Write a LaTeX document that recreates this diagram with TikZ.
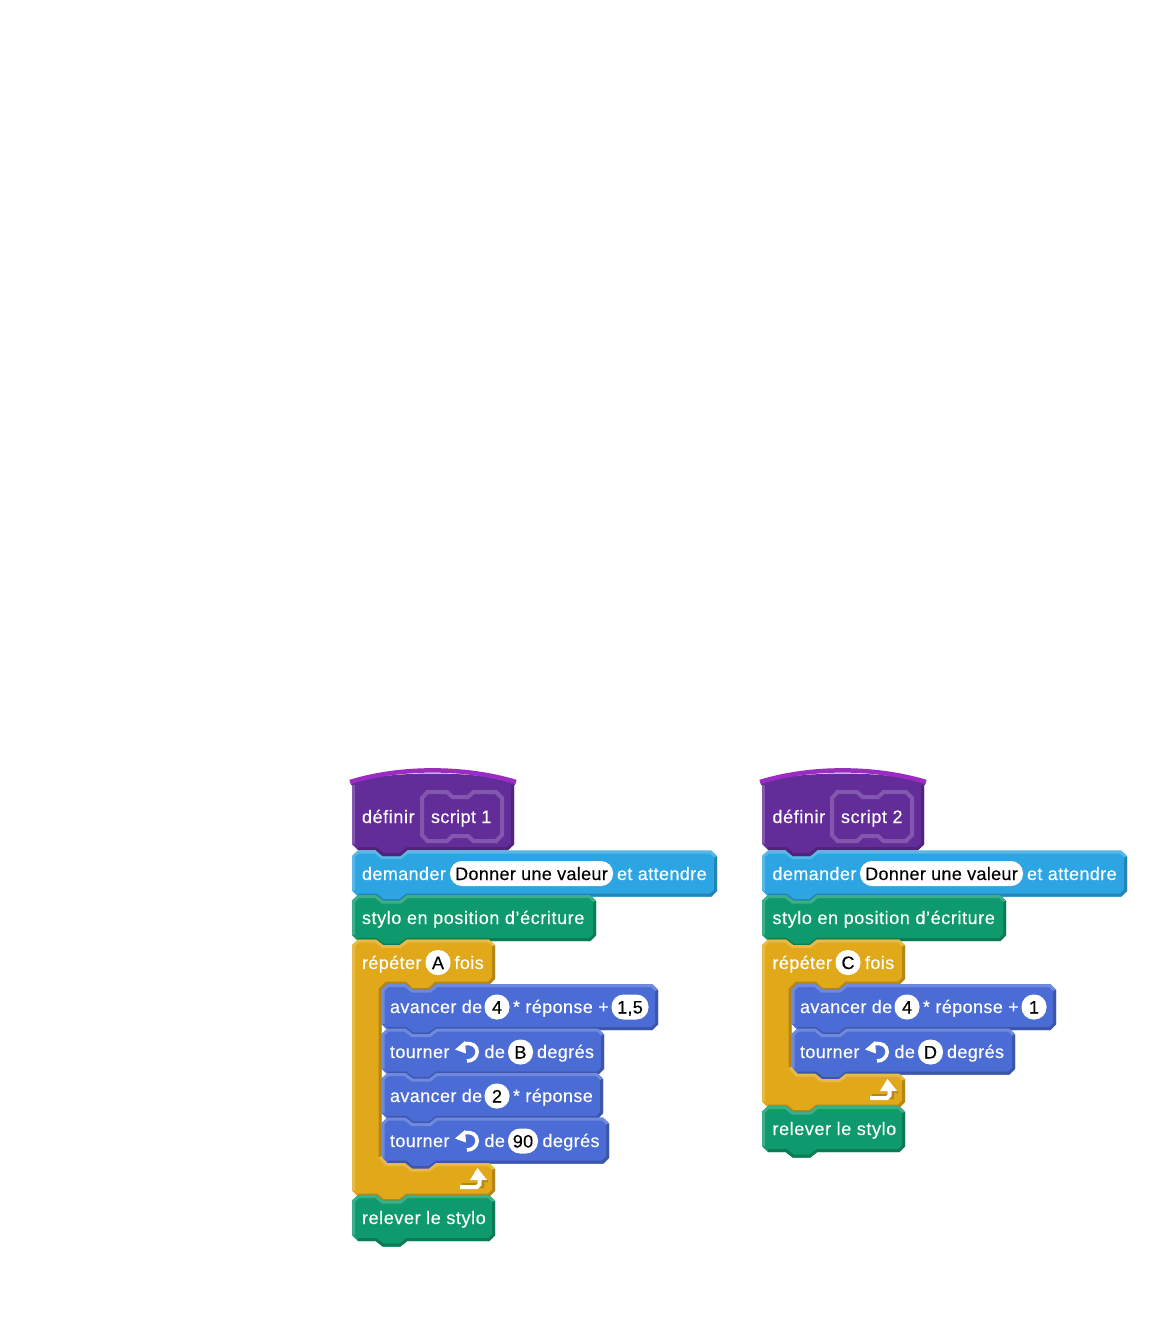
\documentclass[tikz,border=0pt]{standalone}
\usepackage{fontspec}
\newfontfamily\blockfont[LetterSpace=2.2,FakeBold=0.25]{Liberation Sans}
\newfontfamily\blockwide[LetterSpace=3.3,FakeBold=0.25]{Liberation Sans}
\newfontfamily\pillfont[LetterSpace=1.8,FakeBold=0.25]{Liberation Sans}
\definecolor{penB}{HTML}{0E9A6C}\definecolor{penL}{HTML}{3CAE89}\definecolor{penD}{HTML}{0B7B56}
\definecolor{senB}{HTML}{2CA5E2}\definecolor{senL}{HTML}{56B7E8}\definecolor{senD}{HTML}{2384B5}
\definecolor{conB}{HTML}{E1A91A}\definecolor{conL}{HTML}{E7BA48}\definecolor{conD}{HTML}{B48715}
\definecolor{motB}{HTML}{4A6CD4}\definecolor{motL}{HTML}{6E89DD}\definecolor{motD}{HTML}{3B56AA}
\definecolor{defB}{HTML}{632D99}\definecolor{defL}{HTML}{8257AD}\definecolor{defD}{HTML}{4F247A}
\definecolor{defT}{HTML}{9A2BC4}
\tikzset{
  x=1pt,y=-1pt,
  bevel/.style={line width=3pt,line join=miter,line cap=butt},
  lbl/.style={anchor=base west,inner sep=0pt,outer sep=0pt,text=white,font=\blockfont\fontsize{18}{20}\selectfont},
  lblw/.style={lbl,font=\blockwide\fontsize{18}{20}\selectfont},
  pill/.style={fill=white,rounded corners=12pt,inner sep=0pt,outer sep=0pt,text=black,
     minimum height=25pt,text height=13pt,text depth=0pt,font=\pillfont\fontsize{18}{20}\selectfont},
}
% L T R B base light dark
\newcommand{\blockshape}[7]{%
  \fill[#5] ({#1+6},#2) -- ({#1+24},#2) -- ({#1+31},{#2+5.5}) -- ({#1+48},{#2+5.5}) -- ({#1+55},#2) -- ({#3-6},#2) -- (#3,{#2+6})
    -- (#3,{#4-6}) -- ({#3-6},#4) -- ({#1+55},#4) -- ({#1+48},{#4+5.5}) -- ({#1+31},{#4+5.5}) -- ({#1+24},#4) -- ({#1+6},#4) -- (#1,{#4-6}) -- (#1,{#2+6}) -- cycle;
  \draw[bevel,#7] ({#3-1.5},{#2+6}) -- ({#3-1.5},{#4-6}) -- ({#3-6},{#4-1.5}) -- ({#1+55},{#4-1.5}) -- ({#1+48},{#4+4}) -- ({#1+31},{#4+4}) -- ({#1+24},{#4-1.5}) -- ({#1+6},{#4-1.5});
  \draw[bevel,#6] ({#1+1.5},{#4-6}) -- ({#1+1.5},{#2+6}) -- ({#1+6.5},{#2+1.5}) -- ({#1+23.5},{#2+1.5}) -- ({#1+30.5},{#2+7}) -- ({#1+48.5},{#2+7}) -- ({#1+55.5},{#2+1.5}) -- ({#3-6.5},{#2+1.5}) -- ({#3-1.5},{#2+6});
}
% C block: T, armbottom, armtop, bottom
\newcommand{\cblock}[4]{%
  \fill[conB] (358,#1) -- (376,#1) -- (383,{#1+5.5}) -- (400,{#1+5.5}) -- (407,#1) -- (489,#1) -- (495,{#1+6}) -- (495,{#2-6}) -- (489,#2)
    -- (436,#2) -- (429,{#2+6.5}) -- (412,{#2+6.5}) -- (405,#2) -- (387.5,#2) -- (381.5,{#2+6}) -- (381.5,{#3-6}) -- (387.5,#3)
    -- (405,#3) -- (412,{#3+5.5}) -- (429,{#3+5.5}) -- (436,#3) -- (489,#3) -- (495,{#3+6}) -- (495,{#4-6}) -- (489,#4)
    -- (407,#4) -- (400,{#4+5.5}) -- (383,{#4+5.5}) -- (376,#4) -- (358,#4) -- (352,{#4-6}) -- (352,{#1+6}) -- cycle;
  \draw[bevel,conD] (493.5,{#1+6}) -- (493.5,{#2-6}) -- (489,{#2-1.5}) -- (436,{#2-1.5}) -- (429,{#2+5}) -- (412,{#2+5}) -- (405,{#2-1.5}) -- (386.5,{#2-1.5}) -- (380,{#2+5}) -- (380,{#3-6});
  \draw[bevel,conL] (353.5,{#4-6}) -- (353.5,{#1+6}) -- (358.5,{#1+1.5}) -- (375.5,{#1+1.5}) -- (382.5,{#1+7}) -- (400.5,{#1+7}) -- (407.5,{#1+1.5}) -- (488.5,{#1+1.5}) -- (493.5,{#1+6});
}
\newcommand{\cblocktop}[2]{% lower arm bevels, drawn over the inner blocks: armtop, bottom
  \draw[bevel,conD] (493.5,{#1+6}) -- (493.5,{#2-6}) -- (489,{#2-1.5}) -- (407,{#2-1.5}) -- (400,{#2+4}) -- (383,{#2+4}) -- (376,{#2-1.5}) -- (358,{#2-1.5});
  \draw[bevel,conL] (380,{#1-6}) -- (386.5,{#1+1.5}) -- (404.5,{#1+1.5}) -- (411.5,{#1+7}) -- (429.5,{#1+7}) -- (436.5,{#1+1.5}) -- (488.5,{#1+1.5}) -- (493.5,{#1+6});
}
\newcommand{\turnicon}[2]{% icon origin at centre of the arc
  \begin{scope}[shift={(#1,#2)}]
    \draw[white,line width=3.6pt] (-3,-8) .. controls (5,-10) and (10.5,-6) .. (10.2,0) .. controls (9.8,5) and (6,9) .. (0,9);
    \fill[white] (-12,-2.5) -- (-2,-11) -- (-1,1.5) -- cycle;
  \end{scope}}
\newcommand{\loopicon}[2]{% arrow of the C block, apex at (#1,#2)
  \begin{scope}[shift={(#1,#2)}]
    \fill[conD] (-15,20) -- (7,20) -- (7,12) -- (3,12) -- (3,15) -- (-15,15) -- cycle;
    \fill[conD] (2,12) -- (10.5,14.5) -- (11,12) -- cycle;
    \draw[white,line width=4pt] (-17,19) -- (0,19) -- (2.5,16.5) -- (2.5,10);
    \fill[white] (-7,12) -- (0.5,0) -- (10,12) -- cycle;
  \end{scope}}
\newcommand{\hathead}[1]{%
  \fill[defB] (352,782) -- (514,782) -- (514,844) -- (508,850) -- (407,850) -- (400,856) -- (383,856) -- (376,850) -- (358,850) -- (352,844) -- cycle;
  \draw[bevel,defD] (512.5,782) -- (512.5,844) -- (507.5,848.5) -- (407,848.5) -- (400,854.5) -- (383,854.5) -- (376,848.5) -- (358,848.5);
  \draw[bevel,defL] (353.5,844) -- (353.5,782);
  \fill[defB] (351,781) .. controls (400,771) and (465,771) .. (515,781) -- (515,785) -- (351,785) -- cycle;
  \draw[defT,line width=4.5pt] (350,782) .. controls (400,766.5) and (465,766.5) .. (516,782);
  \draw[defL,line width=4pt] (427.5,792) -- (447,792) -- (452.5,797) -- (468,797) -- (473.5,792) -- (496,792) -- (502,798) -- (502,835) -- (496,841) -- (473.5,841) -- (468,836) -- (452.5,836) -- (447,841) -- (427.5,841) -- (422,835) -- (422,798) -- cycle;
}
\begin{document}
\begin{tikzpicture}
\useasboundingbox (0,0) rectangle (1170,1337);
\fill[white] (0,0) rectangle (1170,1337);
% ---------- script 1
\blockshape{352}{850.5}{717}{896.5}{senB}{senL}{senD}
\hathead{}
\blockshape{352}{895}{596}{941}{penB}{penL}{penD}
\cblock{939.5}{984.5}{1163}{1196.5}
\blockshape{381.5}{984}{658}{1030}{motB}{motL}{motD}
\blockshape{381.5}{1028.5}{604}{1074.5}{motB}{motL}{motD}
\blockshape{381.5}{1073}{603}{1119}{motB}{motL}{motD}
\blockshape{381.5}{1117.5}{609}{1163.5}{motB}{motL}{motD}
\cblocktop{1163}{1196.5}
\blockshape{352}{1195}{495}{1241}{penB}{penL}{penD}
\loopicon{477}{1168}
\node[lblw] (a1) at (362,823) {définir};
\node[lbl] (a2) at (431,823) {script 1};
\node[lbl] (a3) at (362,880) {demander};
\node[pill,minimum width=163pt] (a4) at (531.5,873.5) {Donner une valeur};
\node[lbl] (a5) at (617,880) {et attendre};
\node[lblw] (a6) at (362,924) {stylo en position d’écriture};
\node[lbl] (a7) at (362,969) {répéter};
\node[pill,minimum width=25pt] (a8) at (438,962.5) {A};
\node[lbl] (a9) at (454.5,969) {fois};
\node[lbl] (a10) at (390,1013) {avancer de};
\node[pill,minimum width=25pt] (a11) at (497,1007) {4};
\node[lbl] (a12) at (513,1013) {* réponse +};
\node[pill,minimum width=37pt] (a13) at (630,1007) {1,5};
\node[lbl] (a14) at (390,1058) {tourner};
\turnicon{467}{1052}
\node[lbl] (a15) at (484.5,1058) {de};
\node[pill,minimum width=25pt] (a16) at (520.5,1052) {B};
\node[lbl] (a17) at (537,1058) {degrés};
\node[lbl] (a18) at (390,1102) {avancer de};
\node[pill,minimum width=25pt] (a19) at (497,1096) {2};
\node[lbl] (a20) at (513,1102) {* réponse};
\node[lbl] (a21) at (390,1147) {tourner};
\turnicon{467}{1141}
\node[lbl] (a22) at (484.5,1147) {de};
\node[pill,minimum width=30pt] (a23) at (523,1141) {90};
\node[lbl] (a24) at (542.5,1147) {degrés};
\node[lblw] (a25) at (362,1224) {relever le stylo};
% ---------- script 2
\begin{scope}[xshift=410pt]
\blockshape{352}{850.5}{717}{896.5}{senB}{senL}{senD}
\hathead{}
\blockshape{352}{895}{596}{941}{penB}{penL}{penD}
\cblock{939.5}{984.5}{1073.5}{1107.5}
\blockshape{381.5}{984}{646}{1030}{motB}{motL}{motD}
\blockshape{381.5}{1028.5}{605}{1074.5}{motB}{motL}{motD}
\cblocktop{1073.5}{1107.5}
\blockshape{352}{1106}{495}{1152}{penB}{penL}{penD}
\loopicon{477}{1079}
\node[lblw] (b1) at (362.5,823) {définir};
\node[lblw] (b2) at (431,823) {script 2};
\node[lbl] (b3) at (362.5,880) {demander};
\node[pill,minimum width=163pt] (b4) at (531.5,873.5) {Donner une valeur};
\node[lbl] (b5) at (617,880) {et attendre};
\node[lblw] (b6) at (362.5,924) {stylo en position d’écriture};
\node[lbl] (b7) at (362.5,969) {répéter};
\node[pill,minimum width=25pt] (b8) at (438,962.5) {C};
\node[lbl] (b9) at (455,969) {fois};
\node[lbl] (b10) at (390,1013) {avancer de};
\node[pill,minimum width=25pt] (b11) at (497,1007) {4};
\node[lbl] (b12) at (513,1013) {* réponse +};
\node[pill,minimum width=25pt] (b13) at (624,1007) {1};
\node[lbl] (b14) at (390,1058) {tourner};
\turnicon{467}{1052}
\node[lbl] (b15) at (484.5,1058) {de};
\node[pill,minimum width=25pt] (b16) at (520.5,1052) {D};
\node[lbl] (b17) at (537,1058) {degrés};
\node[lblw] (b18) at (362.5,1135) {relever le stylo};
\end{scope}
\end{tikzpicture}
\end{document}
